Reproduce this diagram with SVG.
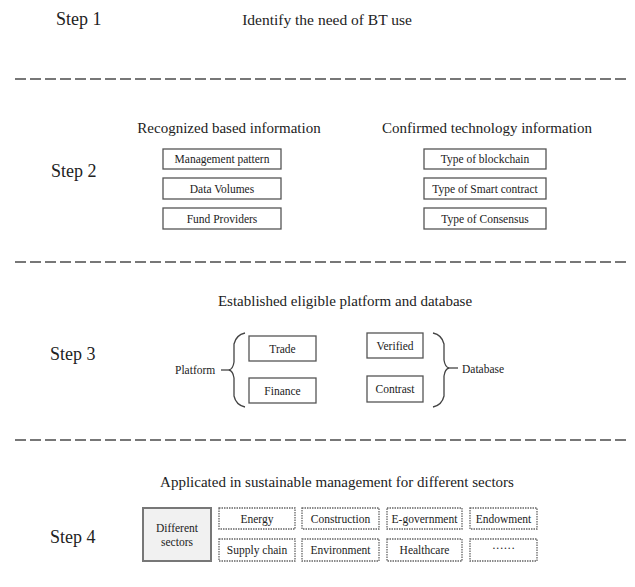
<svg xmlns="http://www.w3.org/2000/svg" width="635" height="587" viewBox="0 0 635 587">
<style>
text{font-family:"Liberation Serif","Times New Roman",serif;fill:#222;}
.step{font-size:18px;}
.head{font-size:15px;text-anchor:middle;}
.lbl{font-size:11.5px;text-anchor:middle;}
.side{font-size:11.5px;}
.box{fill:#fff;stroke:#555;stroke-width:1.3;}
.dbox{fill:#fff;stroke:#666;stroke-width:1.3;stroke-dasharray:1.5 1;}
.sep{stroke:#777;stroke-width:2;stroke-dasharray:11 4;fill:none;}
.br{fill:none;stroke:#444;stroke-width:1.3;}
</style>
<rect width="635" height="587" fill="#fff"/>
<g id="separators">
<line class="sep" x1="15" y1="79" x2="630" y2="79"/>
<line class="sep" x1="15" y1="262" x2="630" y2="262"/>
<line class="sep" x1="15" y1="440" x2="630" y2="440"/>
</g>
<g id="step1">
<text class="step" x="56" y="25">Step 1</text>
<text class="head" x="327" y="25" style="font-size:15.5px">Identify the need of BT use</text>
</g>
<g id="step2">
<text class="step" x="51" y="177">Step 2</text>
<text class="head" x="229" y="133">Recognized based information</text>
<text class="head" x="487" y="133">Confirmed technology information</text>
<g id="n-management"><rect class="box" x="163" y="149" width="118" height="20"/><text class="lbl" x="222" y="163">Management pattern</text></g>
<g id="n-data"><rect class="box" x="163" y="178" width="118" height="21"/><text class="lbl" x="222" y="192.5">Data Volumes</text></g>
<g id="n-fund"><rect class="box" x="163" y="208" width="118" height="21"/><text class="lbl" x="222" y="222.5">Fund Providers</text></g>
<g id="n-blockchain"><rect class="box" x="424" y="149" width="122" height="20"/><text class="lbl" x="485" y="163">Type of blockchain</text></g>
<g id="n-smart"><rect class="box" x="424" y="178" width="122" height="21"/><text class="lbl" x="485" y="192.5">Type of Smart contract</text></g>
<g id="n-consensus"><rect class="box" x="424" y="208" width="122" height="21"/><text class="lbl" x="485" y="222.5">Type of Consensus</text></g>
</g>
<g id="step3">
<text class="step" x="50" y="360">Step 3</text>
<text class="head" x="345" y="306">Established eligible platform and database</text>
<g id="n-platform"><text class="side" x="175" y="374">Platform</text></g>
<g id="n-trade"><rect class="box" x="249" y="336" width="67" height="25"/><text class="lbl" x="282.5" y="352.5">Trade</text></g>
<g id="n-finance"><rect class="box" x="249" y="378" width="67" height="25"/><text class="lbl" x="282.5" y="394.5">Finance</text></g>
<g id="n-verified"><rect class="box" x="367" y="333" width="56" height="25"/><text class="lbl" x="395" y="349.5">Verified</text></g>
<g id="n-contrast"><rect class="box" x="367" y="376" width="56" height="26"/><text class="lbl" x="395" y="393">Contrast</text></g>
<g id="n-database"><text class="side" x="462" y="373">Database</text></g>
</g>
<g id="connectors">
<path class="br" d="M245,333 Q236,335 234,344 L234,362 Q233,369 229,370 Q233,371 234,378 L234,396 Q236,405 245,407"/>
<line class="br" x1="221" y1="370" x2="229" y2="370"/>
<path class="br" d="M433,333 Q442,335 444,344 L444,360 Q445,367 449,368 Q445,369 444,376 L444,396 Q442,405 433,407"/>
<line class="br" x1="449" y1="368" x2="458" y2="368"/>
</g>
<g id="step4">
<text class="step" x="50" y="543">Step 4</text>
<text class="head" x="337" y="487">Applicated in sustainable management for different sectors</text>
<g id="n-sectors"><rect x="143" y="508" width="68" height="53" fill="#f1f1f1" stroke="#777" stroke-width="2"/><text class="lbl" x="177" y="532">Different</text><text class="lbl" x="177" y="546">sectors</text></g>
<g id="n-energy"><rect class="dbox" x="219" y="508" width="76" height="21"/><text class="lbl" x="257" y="522.5">Energy</text></g>
<g id="n-construction"><rect class="dbox" x="302" y="508" width="77" height="21"/><text class="lbl" x="340.5" y="522.5">Construction</text></g>
<g id="n-egov"><rect class="dbox" x="387" y="508" width="75" height="21"/><text class="lbl" x="424.5" y="522.5">E-government</text></g>
<g id="n-endowment"><rect class="dbox" x="470" y="508" width="67" height="21"/><text class="lbl" x="503.5" y="522.5">Endowment</text></g>
<g id="n-supply"><rect class="dbox" x="219" y="539" width="76" height="22"/><text class="lbl" x="257" y="554">Supply chain</text></g>
<g id="n-environment"><rect class="dbox" x="302" y="539" width="77" height="22"/><text class="lbl" x="340.5" y="554">Environment</text></g>
<g id="n-healthcare"><rect class="dbox" x="387" y="539" width="75" height="22"/><text class="lbl" x="424.5" y="554">Healthcare</text></g>
<g id="n-more"><rect class="dbox" x="470" y="539" width="67" height="22"/><text class="lbl" x="503.5" y="552">······</text></g>
</g>
</svg>
